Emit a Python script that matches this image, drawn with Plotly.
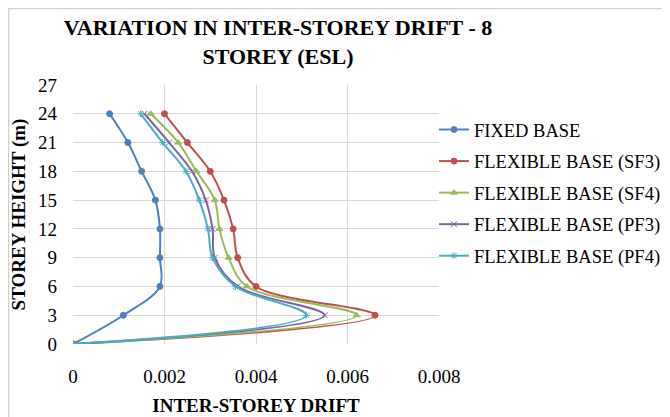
import plotly.graph_objects as go

heights = [0, 3, 6, 9, 12, 15, 18, 21, 24]
fixed_base = [0, 0.0011, 0.0019, 0.0019, 0.0019, 0.0018, 0.0015, 0.0012, 0.0008]
flex_sf3 = [0, 0.0066, 0.0040, 0.0036, 0.0035, 0.0033, 0.0030, 0.0025, 0.0020]
flex_sf4 = [0, 0.0062, 0.0038, 0.0034, 0.0032, 0.0031, 0.0027, 0.0023, 0.0017]
flex_pf3 = [0, 0.0055, 0.0036, 0.0031, 0.00305, 0.0029, 0.0026, 0.0021, 0.00156]
flex_pf4 = [0, 0.0051, 0.00355, 0.00305, 0.00295, 0.00276, 0.00247, 0.00196, 0.00148]

names = ["FIXED BASE", "FLEXIBLE BASE (SF3)", "FLEXIBLE BASE (SF4)",
         "FLEXIBLE BASE (PF3)", "FLEXIBLE BASE (PF4)"]
series = [fixed_base, flex_sf3, flex_sf4, flex_pf3, flex_pf4]
colors = ["#4F81BD", "#C0504D", "#9BBB59", "#8064A2", "#4BACC6"]
symbols = ["circle", "circle", "triangle-up", "x-thin", "asterisk"]

x_ticks = [0, 0.002, 0.004, 0.006, 0.008]
x_ticklabels = ["0", "0.002", "0.004", "0.006", "0.008"]
y_ticks = [0, 3, 6, 9, 12, 15, 18, 21, 24, 27]

FONT = "Liberation Serif, Times New Roman, serif"

fig = go.Figure()
for i, (nm, vals, col, sym) in enumerate(zip(names, series, colors, symbols)):
    fig.add_trace(go.Scatter(
        x=vals, y=heights, name=nm, mode="lines+markers",
        line=dict(color=col, width=2, shape="spline", smoothing=1),
        marker=dict(symbol=sym, size=6, color=col, line=dict(color=col, width=1)),
        legendgroup=f"g{i}",
    ))

# the page body adds an 8px offset, so the figure is laid out in shifted coordinates
W, H = 662, 409
L, R, T, B = 65, 231, 77, 73
pw, ph = W - L - R, H - T - B

def px(xp):
    return (xp - L) / pw

def py(yp):
    return (H - B - yp) / ph

fig.add_shape(type="rect", xref="paper", yref="paper",
              x0=px(0.5), x1=px(700), y0=py(430), y1=py(0.5),
              line=dict(color="#D0D0D0", width=1.5), fillcolor="rgba(0,0,0,0)",
              layer="below")

fig.update_layout(
    width=W, height=H,
    margin=dict(l=L, r=R, t=T, b=B, autoexpand=False),
    paper_bgcolor="white", plot_bgcolor="white",
    font=dict(family=FONT, size=19, color="black"),
    title=dict(
        text="<b>VARIATION IN INTER-STOREY DRIFT - 8<br>STOREY (ESL)</b>",
        x=270 / W, xanchor="center", xref="container",
        y=1 - 27 / H, yanchor="middle", yref="container",
        font=dict(family=FONT, size=22, color="black"),
    ),
    xaxis=dict(
        range=[0, 0.008], tickvals=x_ticks, ticktext=x_ticklabels,
        showgrid=True, gridcolor="#D9D9D9", gridwidth=1,
        zeroline=False, showline=False, ticks="",
        ticklabelstandoff=19, automargin=False,
        title=dict(text="<b>INTER-STOREY DRIFT</b>", standoff=12,
                   font=dict(family=FONT, size=19)),
        tickfont=dict(family=FONT, size=19),
    ),
    yaxis=dict(
        range=[0, 27], tickvals=y_ticks,
        showgrid=True, gridcolor="#D9D9D9", gridwidth=1,
        zeroline=False, showline=False, ticks="",
        ticklabelstandoff=15, automargin=False,
        title=dict(text="<b>STOREY HEIGHT (m)</b>", standoff=11,
                   font=dict(family=FONT, size=19)),
        tickfont=dict(family=FONT, size=19),
    ),
    legend=dict(
        x=426 / W, xanchor="left", xref="container",
        y=1 - 103 / H, yanchor="top", yref="container",
        font=dict(family=FONT, size=18.5, color="black"),
        bgcolor="rgba(0,0,0,0)", tracegroupgap=4.5,
        itemwidth=30,
    ),
    showlegend=True,
)

fig.write_html("out.html")
